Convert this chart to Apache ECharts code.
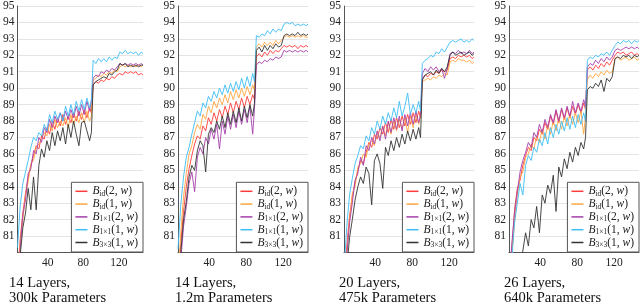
<!DOCTYPE html>
<html><head><meta charset="utf-8">
<script src="https://cdn.jsdelivr.net/npm/echarts@6/dist/echarts.min.js"></script>
<style>html,body{margin:0;padding:0;background:#fff}#c{width:640px;height:305px}</style>
</head><body><div id="c"></div>
<script>
// epochs (x values)
const epochs = [6,9,12,15,18,21,24,27,30,33,36,39,42,45,48,51,54,57,60,63,66,69,72,75,78,81,84,87,89,91,94,97,100,103,106,109,112,115,118,121,124,127,130,133,136,139,142,145,147];
const xTicks = [40, 80, 120];
const seriesNames = ['Bid(2,w)', 'Bid(1,w)', 'B1x1(2,w)', 'B1x1(1,w)', 'B3x3(1,w)'];
const captions = ['14 Layers,\n300k Parameters', '14 Layers,\n1.2m Parameters', '20 Layers,\n475k Parameters', '26 Layers,\n640k Parameters'];

// Panel 1: 14 layers, 300k
const p1Bid2 = [78.5,80.8,82.4,83.6,84.6,85.3,85.9,86.5,86.3,87.1,86.9,87.6,87.2,88.0,87.5,88.2,87.7,88.4,87.8,88.3,87.9,88.5,88.0,88.6,88.1,88.7,88.2,88.8,88.5,90.2,90.4,90.3,90.5,90.4,90.6,90.5,90.7,90.6,90.8,90.9,90.8,91.0,90.9,91.0,90.9,91.0,90.8,90.9,90.8];
const p1Bid1 = [78.0,80.5,82.0,83.5,84.3,85.4,85.6,86.4,86.6,86.9,87.3,87.1,87.8,87.4,88.1,87.6,88.0,87.7,88.2,87.6,88.4,87.8,88.3,87.9,88.5,87.9,88.6,88.0,88.3,90.5,90.6,90.8,90.7,90.9,90.8,91.0,90.9,91.1,91.0,91.3,91.4,91.3,91.4,91.3,91.4,91.3,91.4,91.3,91.4];
const p1B1x1_2 = [77.5,80.2,82.3,83.2,84.8,85.1,86.2,86.0,87.0,86.7,87.6,87.3,88.1,87.6,88.3,87.9,88.5,88.0,88.6,88.1,88.7,88.2,88.9,88.3,89.0,88.4,89.2,88.6,89.3,90.6,90.8,90.7,91.0,90.9,91.1,91.0,91.2,91.1,91.3,91.5,91.4,91.5,91.4,91.5,91.4,91.5,91.4,91.5,91.4];
const p1B1x1_1 = [80.3,82.8,84.2,84.9,85.6,86.4,87.0,86.8,87.3,87.1,87.8,87.4,88.4,87.9,88.6,88.1,88.5,88.0,88.9,88.3,89.0,88.4,89.2,88.6,89.3,88.7,89.4,88.8,89.2,91.7,91.5,91.8,91.6,91.8,91.6,91.9,91.7,91.9,91.8,92.2,92.1,92.3,92.1,92.2,92.1,92.2,92.0,92.2,92.1];
const p1B3x3_1 = [77.0,79.8,81.5,82.4,83.9,82.6,84.6,82.6,85.3,86.3,85.8,86.8,86.2,87.3,86.5,87.4,86.8,87.6,86.6,87.8,87.0,88.0,87.2,86.5,87.9,88.0,87.4,86.8,87.3,90.2,90.4,90.5,90.6,90.7,90.6,90.9,90.8,91.0,91.1,91.5,91.4,91.5,91.3,91.4,91.3,91.4,91.3,91.4,91.4];

// Panel 2: 14 layers, 1.2m
const p2Bid2 = [78.0,80.6,82.5,84.0,85.1,85.9,86.6,87.1,86.9,87.7,87.4,88.2,87.8,88.5,88.0,88.7,88.2,88.9,88.4,89.1,88.5,89.2,88.7,89.4,88.8,89.5,89.0,89.6,89.3,91.9,92.1,91.9,92.2,92.0,92.3,92.1,92.3,92.2,92.4,92.6,92.5,92.6,92.5,92.6,92.4,92.6,92.5,92.6,92.5];
const p2Bid1 = [78.5,81.2,83.4,84.8,86.0,86.5,87.3,87.8,87.5,88.4,88.1,88.9,88.5,89.2,88.8,89.4,89.0,89.6,89.1,89.8,89.3,89.9,89.4,90.0,89.5,90.1,89.6,90.2,89.9,92.5,92.7,92.5,92.8,92.6,92.8,92.6,92.9,92.7,92.9,93.1,93.2,93.1,93.2,93.1,93.2,93.1,93.2,93.1,93.1];
const p2B1x1_2 = [77.0,79.5,81.6,82.8,84.2,84.9,83.7,85.8,86.4,86.0,87.0,86.6,87.5,86.9,87.8,86.3,88.0,87.2,88.3,87.5,88.4,87.6,88.6,87.8,88.7,87.9,88.9,87.2,88.8,91.4,91.6,91.5,91.7,91.6,91.8,91.7,91.9,91.8,91.9,92.3,92.2,92.3,92.2,92.3,92.2,92.3,92.2,92.3,92.2];
const p2B1x1_1 = [80.2,82.9,84.6,85.8,86.4,87.2,87.9,88.6,88.3,89.1,88.8,89.5,89.2,89.8,89.4,90.0,89.6,90.2,89.7,90.3,89.8,90.4,89.9,90.6,90.0,90.7,90.1,90.9,90.4,93.2,93.1,93.3,93.2,93.5,93.3,93.6,93.4,93.6,93.5,93.9,94.0,93.9,94.0,93.8,93.9,93.8,93.9,93.8,93.9];
const p2B3x3_1 = [77.5,80.0,82.0,83.1,84.6,85.3,85.0,86.2,86.8,86.5,84.9,87.2,87.6,87.3,88.0,87.5,88.3,87.6,88.5,87.8,88.6,87.9,88.8,88.0,88.9,88.2,89.0,88.3,89.1,92.3,92.5,92.2,92.6,92.3,92.6,92.4,92.7,92.5,92.6,93.2,93.3,93.2,93.3,93.2,93.4,93.2,93.3,93.2,93.3];

// Panel 3: 20 layers, 475k
const p3Bid2 = [77.8,80.4,82.2,83.4,84.3,85.0,85.6,85.4,86.1,86.7,86.4,87.2,86.9,87.6,87.2,87.9,87.3,88.1,87.5,88.2,87.6,88.3,87.7,88.4,87.8,88.5,87.9,88.6,88.2,90.6,90.8,90.7,90.9,90.8,91.0,90.9,91.1,91.0,91.1,91.8,91.9,91.8,92.0,91.9,92.0,91.9,92.0,91.8,91.9];
const p3Bid1 = [77.5,80.0,81.9,83.6,84.0,85.2,85.4,86.0,85.8,86.6,86.8,86.5,87.3,87.0,87.7,87.1,87.9,87.2,88.0,87.4,88.1,87.5,88.2,87.3,88.3,87.6,88.4,87.8,88.3,90.4,90.5,90.6,90.5,90.7,90.6,90.8,90.7,90.9,90.8,91.6,91.7,91.6,91.8,91.7,91.7,91.6,91.7,91.5,91.6];
const p3B1x1_2 = [77.2,79.8,81.8,83.0,84.4,84.8,85.8,85.3,86.5,86.2,87.0,86.6,87.4,86.8,87.7,86.9,88.0,87.3,88.2,87.5,88.3,87.4,88.4,87.7,88.5,87.8,88.6,87.9,88.4,90.9,91.2,91.0,91.3,91.1,91.3,91.0,91.2,90.6,91.2,92.1,92.2,92.1,92.3,92.1,92.2,92.1,92.3,92.1,92.2];
const p3B1x1_1 = [78.8,81.6,83.5,84.5,85.4,85.9,86.5,86.3,87.1,86.8,87.6,87.2,88.0,87.5,88.3,87.8,88.5,88.0,88.8,88.2,89.2,88.3,88.9,89.7,88.4,89.0,88.5,89.2,88.6,91.5,91.7,91.8,92.0,91.9,92.2,92.1,92.4,92.2,92.5,92.8,92.9,92.8,92.9,93.0,92.8,92.9,92.8,93.0,92.9];
const p3B3x3_1 = [76.5,79.0,80.9,82.0,83.2,84.0,84.6,84.2,85.2,84.8,82.9,85.6,86.0,85.4,83.9,86.4,85.9,86.8,86.2,87.0,86.4,87.2,86.6,87.4,86.8,87.5,86.9,87.6,87.0,90.5,90.8,90.9,91.0,90.8,91.1,90.9,91.2,91.0,91.3,92.0,92.2,92.0,92.1,92.2,92.0,92.1,92.2,92.0,92.1];

// Panel 4: 26 layers, 640k
const p4Bid2 = [77.5,80.2,82.6,83.9,84.4,85.3,85.9,86.4,86.2,87.0,86.8,87.5,87.2,87.9,87.5,88.3,87.8,88.6,87.9,88.7,88.1,88.8,88.2,88.9,88.4,89.0,88.5,89.1,88.7,91.1,91.3,91.1,91.4,91.2,91.5,91.3,91.6,91.4,91.7,92.0,92.2,92.1,92.2,92.0,92.1,92.2,92.0,92.1,92.0];
const p4Bid1 = [77.0,79.8,81.9,83.5,84.6,84.9,85.8,86.0,86.6,86.3,87.1,86.7,87.5,86.9,87.8,87.2,88.0,87.4,88.2,87.5,88.3,87.7,88.4,87.8,88.5,87.9,88.6,87.2,88.3,90.5,90.8,90.6,90.9,90.7,91.0,90.8,91.1,90.9,91.0,91.8,91.9,91.7,91.8,91.9,91.7,91.8,91.9,91.7,91.8];
const p4B1x1_2 = [77.8,80.5,82.4,83.7,84.9,85.6,86.1,86.7,86.4,87.3,87.0,87.8,87.3,88.1,87.6,88.4,87.9,88.7,88.0,88.8,88.2,88.9,88.3,89.2,88.5,89.1,88.6,89.3,88.9,91.3,91.5,91.4,91.7,91.5,91.8,91.6,91.9,91.7,91.9,92.3,92.4,92.3,92.4,92.5,92.4,92.5,92.4,92.5,92.4];
const p4B1x1_1 = [76.8,79.5,81.8,83.0,84.2,83.5,85.3,85.9,85.6,86.4,86.1,86.9,86.5,87.3,86.6,87.6,87.0,87.8,87.2,88.0,87.4,88.2,87.5,88.3,87.6,88.4,87.8,88.5,88.0,91.7,91.9,91.8,92.0,91.9,92.1,92.0,92.2,92.0,92.3,92.6,92.8,92.7,92.9,92.8,92.9,92.7,92.9,92.8,92.9];
const p4B3x3_1 = [74.0,75.5,77.0,78.2,79.2,80.1,81.2,80.4,82.0,81.5,82.8,81.2,83.5,83.0,84.1,83.6,84.7,82.5,85.2,84.6,85.7,85.1,86.1,85.5,86.4,85.9,86.7,86.3,87.0,89.9,90.1,90.0,90.3,90.1,90.5,89.8,90.6,90.4,90.7,91.8,91.9,91.8,92.0,91.9,92.0,91.8,92.0,91.9,92.0];

const panels = [
  [p1Bid2, p1Bid1, p1B1x1_2, p1B1x1_1, p1B3x3_1],
  [p2Bid2, p2Bid1, p2B1x1_2, p2B1x1_1, p2B3x3_1],
  [p3Bid2, p3Bid1, p3B1x1_2, p3B1x1_1, p3B3x3_1],
  [p4Bid2, p4Bid1, p4B1x1_2, p4B1x1_1, p4B3x3_1]
];
panels.forEach((p, pi) => p.forEach((a, si) => { if (a.length !== epochs.length) throw new Error('len mismatch panel ' + (pi+1) + ' series ' + si + ': ' + a.length); }));

const colors = ['#ff3b3b', '#ffa640', '#a53fab', '#3dbdf5', '#333333'];
const serif = 'Liberation Serif';
const gridLefts = [13, 178, 344, 509];
const capLefts = [9, 175, 339, 504];
const legendRights = [497, 332, 166, 1];

const richMap = {
  'Bid(2,w)': '{i|B}{s|id}{n|(2, }{i|w}{n|)}',
  'Bid(1,w)': '{i|B}{s|id}{n|(1, }{i|w}{n|)}',
  'B1x1(2,w)': '{i|B}{s|1×1}{n|(2, }{i|w}{n|)}',
  'B1x1(1,w)': '{i|B}{s|1×1}{n|(1, }{i|w}{n|)}',
  'B3x3(1,w)': '{i|B}{s|3×3}{n|(1, }{i|w}{n|)}'
};

const grid = [], xAxis = [], yAxis = [], series = [], legend = [], graphic = [];
gridLefts.forEach((l, k) => {
  grid.push({ left: l, top: 5, width: 130, height: 247.5, containLabel: false });
  xAxis.push({
    type: 'value', gridIndex: k, min: 6, max: 147,
    axisLine: { show: true, lineStyle: { color: '#555', width: 1 } },
    axisTick: { show: false },
    splitLine: { show: false },
    axisLabel: { customValues: xTicks, margin: 4, fontFamily: serif, fontSize: 11.5, color: '#222' }
  });
  yAxis.push({
    type: 'value', gridIndex: k, min: 80, max: 95, interval: 1,
    axisLine: { show: true, lineStyle: { color: '#555', width: 1 } },
    axisTick: { show: false },
    splitLine: { show: true, lineStyle: { color: '#e4e4e4', width: 1 } },
    axisLabel: { margin: 3, fontFamily: serif, fontSize: 11.5, color: '#222', formatter: v => v === 80 ? '' : String(v) }
  });
  panels[k].forEach((arr, si) => {
    series.push({
      type: 'line', name: seriesNames[si], xAxisIndex: k, yAxisIndex: k,
      data: epochs.map((e, i) => [e, arr[i]]),
      showSymbol: false, symbol: 'none', clip: true,
      color: colors[si],
      lineStyle: { width: 0.9, color: colors[si] },
      animation: false
    });
  });
  legend.push({
    data: seriesNames, orient: 'vertical', right: legendRights[k], bottom: 53,
    icon: 'rect', itemWidth: 12, itemHeight: 1.5, itemGap: 0.3,
    padding: [3, 5, 3, 4],
    borderColor: '#555', borderWidth: 1, backgroundColor: '#fff',
    selectedMode: false,
    formatter: n => richMap[n],
    textStyle: {
      fontFamily: serif, fontSize: 11, color: '#222',
      rich: {
        i: { fontFamily: serif, fontStyle: 'italic', fontSize: 11.5, lineHeight: 13, color: '#222' },
        n: { fontFamily: serif, fontSize: 11.5, lineHeight: 13, color: '#222' },
        s: { fontFamily: serif, fontSize: 7.5, lineHeight: 7, verticalAlign: 'bottom', color: '#222' }
      }
    }
  });
  graphic.push({
    type: 'text', left: capLefts[k], top: 275,
    style: { text: captions[k], font: '14.5px "Liberation Serif"', fill: '#111', lineHeight: 15.5 }
  });
});

const chart = echarts.init(document.getElementById('c'), null, { renderer: 'canvas' });
chart.setOption({ animation: false, grid, xAxis, yAxis, series, legend, graphic });
</script>
</body></html>
